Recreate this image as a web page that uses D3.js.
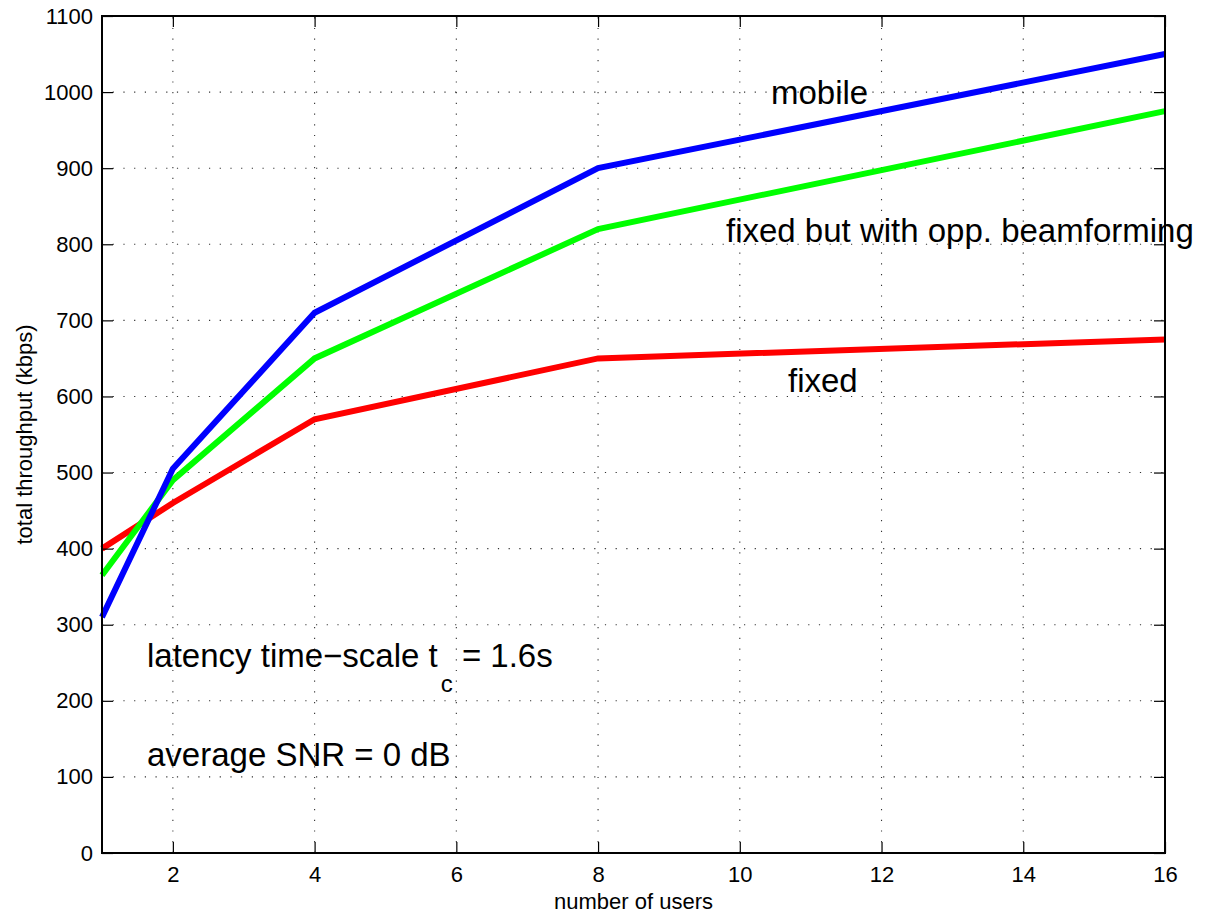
<!DOCTYPE html>
<html>
<head>
<meta charset="utf-8">
<script src="https://cdn.jsdelivr.net/npm/d3@7"></script>
<style>
  body { margin: 0; background: #fff; }
  svg { font-family: "Liberation Sans", Arial, Helvetica, sans-serif; }
</style>
</head>
<body>
<div class="chart"></div>
<script>
// data
const users = [1, 2, 4, 8, 16]
const mobile = [310, 505, 710, 900, 1050]
const beamforming = [365, 490, 650, 820, 975]
const fixed = [400, 460, 570, 650, 675]
const xTicks = [2, 4, 6, 8, 10, 12, 14, 16]
const yTicks = [0, 100, 200, 300, 400, 500, 600, 700, 800, 900, 1000, 1100]

const series = [
    { name: "fixed", values: fixed, color: "#ff0000" },
    { name: "beamforming", values: beamforming, color: "#00ff00" },
    { name: "mobile", values: mobile, color: "#0000ff" }
]

const width = 1205
const height = 917
const margin = { left: 102, right: 40, top: 16, bottom: 64 }

const svg = d3.select('.chart')
    .append('svg')
    .attr('width', width)
    .attr('height', height)

const x = d3.scaleLinear().domain([1, 16]).range([margin.left, width - margin.right])
const y = d3.scaleLinear().domain([0, 1100]).range([height - margin.bottom, margin.top])

const x0 = x.range()[0], x1 = x.range()[1]
const y0 = y.range()[0], y1 = y.range()[1]
const tickLen = 11

// dotted grid
const grid = svg.append("g").attr("stroke", "#333").attr("stroke-width", 1.1)
    .attr("stroke-dasharray", "1.2,9.5")
grid.selectAll(".gx").data(xTicks.filter(d => d < 16)).join("line")
    .attr("x1", d => x(d)).attr("x2", d => x(d))
    .attr("y1", y0).attr("y2", y1)
grid.selectAll(".gy").data(yTicks.filter(d => d > 0 && d < 1100)).join("line")
    .attr("x1", x0).attr("x2", x1)
    .attr("y1", d => y(d)).attr("y2", d => y(d))

// lines
const line = d3.line().x((d, i) => x(users[i])).y(d => y(d))
svg.append("g").selectAll("path")
    .data(series)
    .join("path")
    .attr("d", d => line(d.values))
    .attr("fill", "none")
    .attr("stroke", d => d.color)
    .attr("stroke-width", 6)
    .attr("stroke-linejoin", "miter")

// axes: bottom/left labelled, ticks pointing inward on all four sides
const fmt = d3.format("d")
const axisBottom = d3.axisBottom(x).tickValues(xTicks).tickSizeInner(-tickLen).tickSizeOuter(0).tickPadding(13).tickFormat(fmt)
const axisTop = d3.axisTop(x).tickValues(xTicks).tickSizeInner(-tickLen).tickSizeOuter(0).tickFormat("")
const axisLeft = d3.axisLeft(y).tickValues(yTicks).tickSizeInner(-tickLen).tickSizeOuter(0).tickPadding(9).tickFormat(fmt)
const axisRight = d3.axisRight(y).tickValues(yTicks).tickSizeInner(-tickLen).tickSizeOuter(0).tickFormat("")

function styleAxis(g) {
    g.select(".domain").remove()
    g.selectAll(".tick line").attr("stroke", "#000").attr("stroke-width", 1.2)
    g.selectAll(".tick text").attr("fill", "#000").attr("font-size", "22px")
        .attr("font-family", "Liberation Sans, Arial, sans-serif")
}
svg.append("g").attr("transform", `translate(0,${y0})`).call(axisBottom).call(styleAxis)
svg.append("g").attr("transform", `translate(0,${y1})`).call(axisTop).call(styleAxis)
svg.append("g").attr("transform", `translate(${x0},0)`).call(axisLeft).call(styleAxis)
svg.append("g").attr("transform", `translate(${x1},0)`).call(axisRight).call(styleAxis)

// box
svg.append("rect")
    .attr("x", x0).attr("y", y1)
    .attr("width", x1 - x0).attr("height", y0 - y1)
    .attr("fill", "none").attr("stroke", "#000").attr("stroke-width", 2)

// axis titles
svg.append("text")
    .attr("x", (x0 + x1) / 2).attr("y", 909)
    .attr("text-anchor", "middle").attr("font-size", "22px")
    .text("number of users")
svg.append("text")
    .attr("transform", `translate(32,${(y0 + y1) / 2}) rotate(-90)`)
    .attr("text-anchor", "middle").attr("font-size", "22px")
    .text("total throughput (kbps)")

// annotations
const notes = svg.append("g").attr("font-size", "33px").attr("fill", "#000")
notes.append("text").attr("x", 771).attr("y", 104).text("mobile")
notes.append("text").attr("x", 726).attr("y", 242).text("fixed but with opp. beamforming")
notes.append("text").attr("x", 788).attr("y", 392).text("fixed")

const lat = notes.append("text").attr("x", 147).attr("y", 667)
lat.append("tspan").text("latency time\u2212scale t")
lat.append("tspan").attr("dy", 25).attr("dx", 3).attr("font-size", "24px").text("c")
lat.append("tspan").attr("dy", -25).text(" = 1.6s")

notes.append("text").attr("x", 147).attr("y", 766).text("average SNR = 0 dB")
</script>
</body>
</html>
